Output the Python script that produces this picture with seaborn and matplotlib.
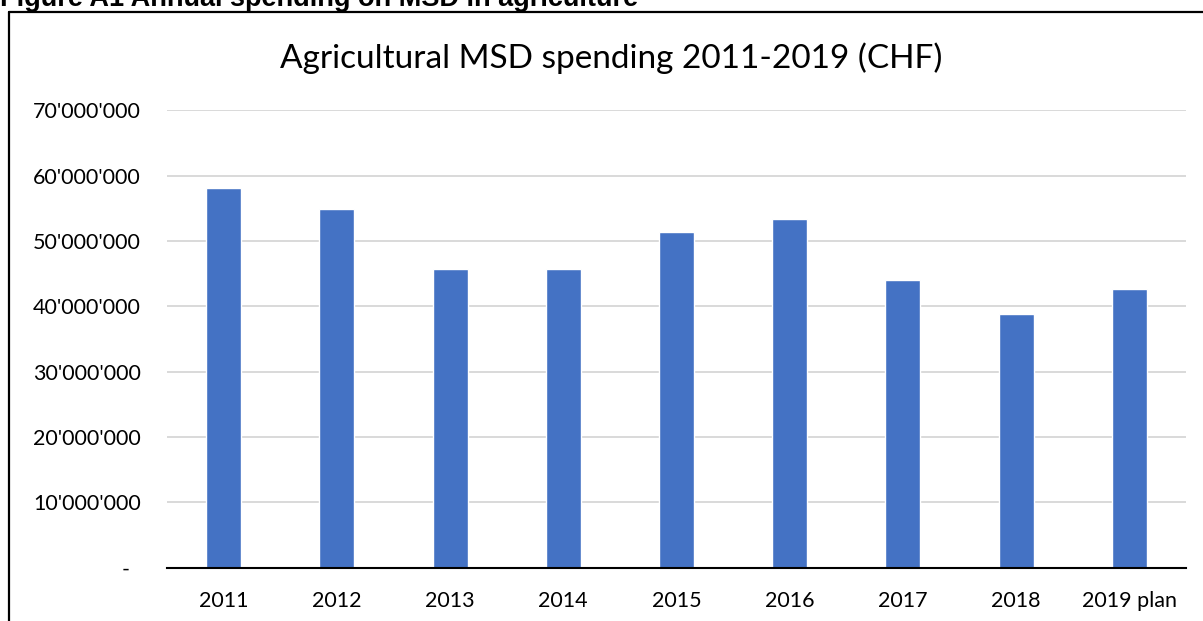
import matplotlib
matplotlib.use("Agg")
import matplotlib.pyplot as plt
from matplotlib.lines import Line2D
from matplotlib.ticker import FixedLocator, FuncFormatter
import seaborn as sns
import pandas as pd

# Annual MSD spending in agriculture (CHF)
years = ["2011", "2012", "2013", "2014", "2015", "2016", "2017", "2018", "2019 plan"]
spending = [58_200_000, 54_900_000, 45_700_000, 45_700_000, 51_400_000,
            53_400_000, 44_000_000, 38_800_000, 42_600_000]
y_ticks = [0, 10_000_000, 20_000_000, 30_000_000, 40_000_000,
           50_000_000, 60_000_000, 70_000_000]

header = "Figure A1 Annual spending on MSD in agriculture"
title = "Agricultural MSD spending 2011-2019 (CHF)"

W, H = 1203, 621
sns.set_theme(style="white")
plt.rcParams["font.family"] = ["Lato", "DejaVu Sans"]

fig = plt.figure(figsize=(W / 100, H / 100), dpi=100)
ax = fig.add_axes([167 / W, (H - 567.5) / H, (1186 - 167) / W, (567.5 - 110.5) / H])

df = pd.DataFrame({"year": years, "spending": spending})
sns.barplot(data=df, x="year", y="spending", color="#4472C4", saturation=1,
            width=0.31, ax=ax, zorder=3)

ax.set_ylim(0, 70_000_000)
ax.set_xlim(-0.5, len(years) - 0.5)
ax.yaxis.set_major_locator(FixedLocator(y_ticks))


def swiss(v, pos=None):
    if v == 0:
        return "-  "
    return f"{int(round(v)):,}".replace(",", "'")


ax.yaxis.set_major_formatter(FuncFormatter(swiss))
ax.grid(axis="y", color="#d9d9d9", linewidth=1.4, zorder=0)
ax.grid(axis="x", visible=False)
for side in ("left", "right", "top"):
    ax.spines[side].set_visible(False)
ax.spines["bottom"].set_color("#000000")
ax.spines["bottom"].set_linewidth(1.5)
ax.spines["bottom"].set_zorder(4)
ax.tick_params(axis="y", length=0, pad=19, labelsize=15.5, labelcolor="#000000")
ax.tick_params(axis="x", length=0, pad=17, labelsize=15.5, labelcolor="#000000")
ax.set_xlabel("")
ax.set_ylabel("")

# Chart title
fig.text(611 / W, 1 - 58 / H, title, ha="center", va="center",
         fontsize=24, color="#000000")

# Figure caption above the frame
fig.text(0 / W, 1 - 6 / H, header, ha="left", va="baseline",
         fontsize=19.5, fontweight="bold", color="#000000",
         family=["Liberation Sans", "DejaVu Sans"])

# Frame around the chart
fig.add_artist(Line2D([9 / W, 9 / W], [1 - 12 / H, 0], transform=fig.transFigure,
                      color="black", linewidth=1.6))
fig.add_artist(Line2D([9 / W, 1], [1 - 12 / H, 1 - 12 / H], transform=fig.transFigure,
                      color="black", linewidth=1.6))

fig.savefig("out.png", dpi=100, facecolor="white")
